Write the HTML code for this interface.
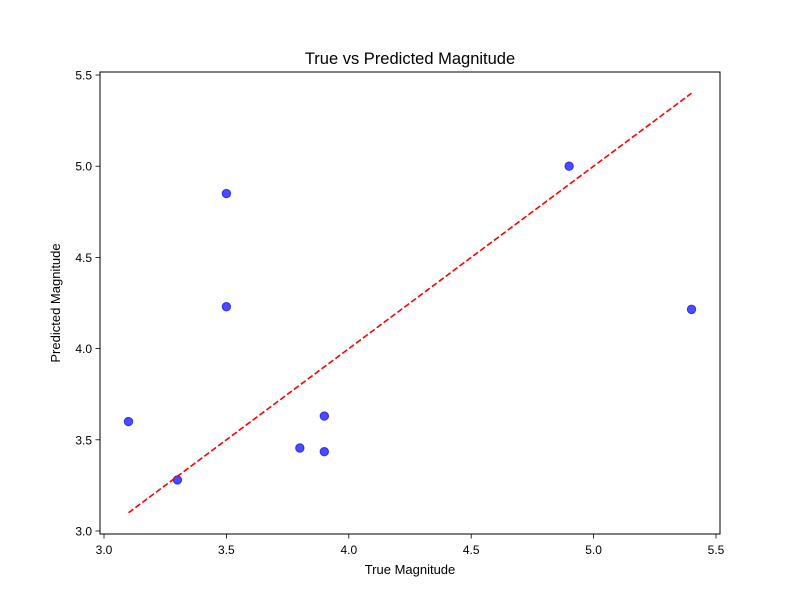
<!DOCTYPE html>
<html><head><meta charset="utf-8"><style>
html,body{margin:0;padding:0;background:#fff;}
svg text{font-family:"Liberation Sans","DejaVu Sans",sans-serif;}
</style></head><body>
<svg id="chart" width="800" height="600" xmlns="http://www.w3.org/2000/svg">
<rect width="800" height="600" fill="#fff"/>
<text x="410" y="64" text-anchor="middle" font-size="16.5">True vs Predicted Magnitude</text>
<text x="410" y="574" text-anchor="middle" font-size="13">True Magnitude</text>
<text transform="translate(60,303) rotate(-90)" text-anchor="middle" font-size="13">Predicted Magnitude</text>
<g id="ticks"></g>
<g id="marks"></g>
<rect x="100" y="72" width="620" height="462" fill="none" stroke="#000" stroke-width="1"/>
</svg>
<script>
const trueVals = [3.1, 3.3, 3.5, 3.5, 3.8, 3.9, 3.9, 4.9, 5.4];
const predVals = [3.60, 3.28, 4.85, 4.23, 3.455, 3.63, 3.435, 5.0, 4.215];
const xTicks = [3.0, 3.5, 4.0, 4.5, 5.0, 5.5];
const yTicks = [3.0, 3.5, 4.0, 4.5, 5.0, 5.5];
const refLine = [3.1, 5.4];

const NS = "http://www.w3.org/2000/svg";
function xs(v){ return 104 + (v - 3.0) * 244.8; }
function ys(v){ return 531 - (v - 3.0) * 182.4; }
function mk(tag, attrs, parent){
  const e = document.createElementNS(NS, tag);
  for (const k in attrs) e.setAttribute(k, attrs[k]);
  parent.appendChild(e); return e;
}
const tg = document.getElementById('ticks');
xTicks.forEach(t => {
  const x = xs(t);
  const l = mk('line', {x1:x, x2:x, y1:534, y2:538.5, stroke:'#000', 'stroke-width':0.8}, tg);
  
  
  const tx = mk('text', {x:x, y:554, 'text-anchor':'middle', 'font-size':12}, tg);
  tx.textContent = t.toFixed(1);
  
  
});
yTicks.forEach(t => {
  const y = ys(t);
  const l = mk('line', {x1:95.5, x2:100, y1:y, y2:y, stroke:'#000', 'stroke-width':0.8}, tg);
  
  
  const tx = mk('text', {x:92, y:y+4.5, 'text-anchor':'end', 'font-size':12}, tg);
  tx.textContent = t.toFixed(1);
  
  
});
const mg = document.getElementById('marks');
trueVals.forEach((v, i) => {
  const c = mk('circle', {cx:xs(v), cy:ys(predVals[i]), r:4.2, fill:'rgba(0,0,255,0.7)', stroke:'rgba(0,0,255,0.7)', 'stroke-width':1}, mg);
  
  
});
const rl = mk('line', {x1:xs(refLine[0]), y1:ys(refLine[0]), x2:xs(refLine[1]), y2:ys(refLine[1]), stroke:'#ff0000', 'stroke-width':1.6, 'stroke-dasharray':'6,2.6'}, mg);


</script>
</body></html>
